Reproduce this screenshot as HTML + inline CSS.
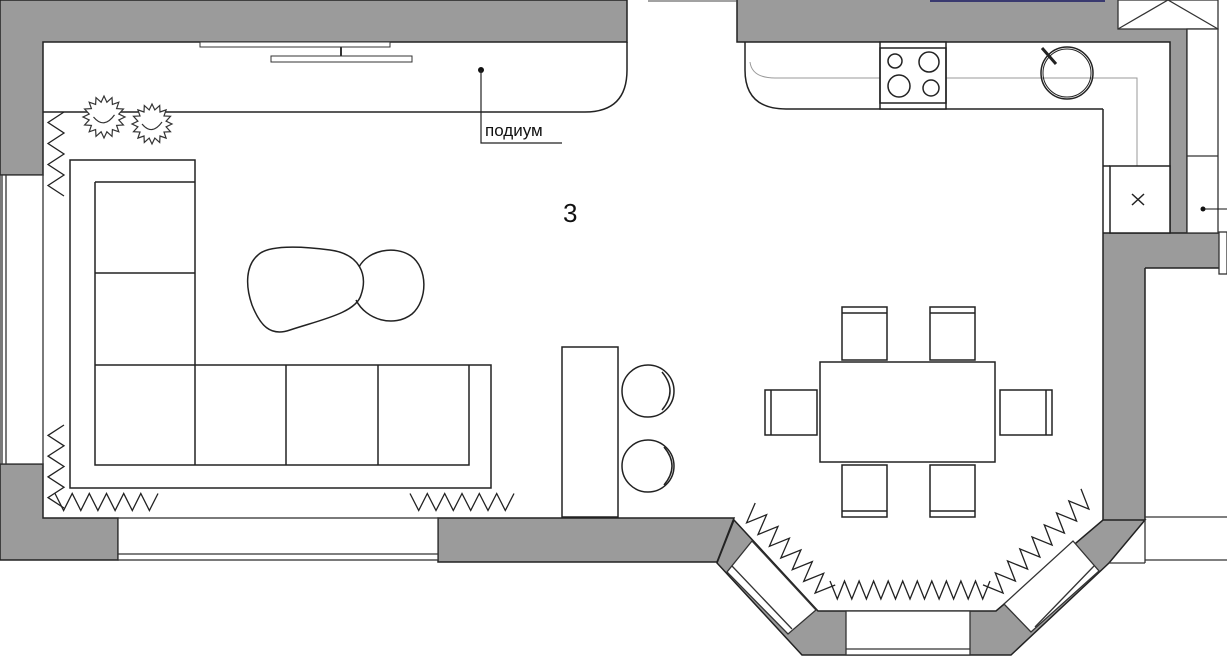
<!DOCTYPE html>
<html><head><meta charset="utf-8"><style>
html,body{margin:0;padding:0;background:#fff;}
svg{display:block}
</style></head><body>
<svg id="s" width="1227" height="670" viewBox="0 0 1227 670" xmlns="http://www.w3.org/2000/svg" font-family="Liberation Sans, sans-serif">
<g fill="#9b9b9b" stroke="#222" stroke-width="1.5">
<path d="M0 0 H627 V42 H43 V175 H0 Z"/>
<path d="M0 464 H43 V518 H118 V560 H0 Z"/>
<path d="M438 518 H734 L717 562 H438 Z"/>
</g>
<g fill="#9b9b9b" stroke="none">
<rect x="737" y="0" width="433" height="42"/>
<rect x="1118" y="29" width="69" height="13"/>
<rect x="1170" y="29" width="17" height="206"/>
<rect x="1103" y="233" width="116" height="35"/>
<rect x="1103" y="233" width="42" height="287"/>
</g>
<path d="M737 0 V42 H1170 V233 M1187 29 V233 M1103 109 V520 M1145 268 V520 M1103 233 H1219 M1145 268 H1219" fill="none" stroke="#222" stroke-width="1.5"/>
<g fill="#9b9b9b" stroke="#222" stroke-width="1.5">
<path d="M734 520 L818 611 H996 L1103 520 H1145 L1109 563 L1011 655 H802 L717 563 Z"/>
</g>
<line x1="930" y1="1" x2="1105" y2="1" stroke="#3a3a70" stroke-width="2"/>
<line x1="648" y1="1" x2="737" y2="1" stroke="#444" stroke-width="1"/>
<g fill="#fff" stroke="#333" stroke-width="1.3">
<rect x="1118" y="0" width="100" height="29"/>
<path d="M1118 29 L1168 0 L1218 29" fill="none"/>
<rect x="1187" y="29" width="31" height="204"/>
<line x1="1187" y1="156" x2="1218" y2="156"/>
</g>
<circle cx="1203" cy="209" r="2.5" fill="#111"/>
<line x1="1203" y1="209" x2="1227" y2="209" stroke="#111"/>
<g stroke="#333" stroke-width="1.3" fill="none">
<line x1="1145" y1="517" x2="1227" y2="517"/>
<line x1="1145" y1="560" x2="1227" y2="560"/>
<line x1="1109" y1="563" x2="1145" y2="563"/>
<line x1="1145" y1="520" x2="1145" y2="563"/>
<rect x="1219" y="232" width="8" height="42"/>
</g>
<g fill="#fff" stroke="#333" stroke-width="1.3">
<rect x="0" y="175" width="43" height="289"/>
<line x1="6" y1="175" x2="6" y2="464"/>
<line x1="2" y1="175" x2="2" y2="464"/>
<rect x="118" y="518" width="320" height="42"/>
<line x1="118" y1="554" x2="438" y2="554"/>
<polygon points="752,541 727,572 788,634 816,610"/>
<line x1="732" y1="566" x2="792" y2="629"/>
<polygon points="1073,541 1099,571 1031,632 1004,604"/>
<line x1="1094" y1="566" x2="1035" y2="627"/>
<rect x="846" y="611" width="124" height="44"/>
<line x1="846" y1="649" x2="970" y2="649"/>
</g>
<path d="M43 112 H585 Q627 112 627 70 V42" fill="none" stroke="#222" stroke-width="1.5"/>
<rect x="200" y="42" width="190" height="5" fill="#fff" stroke="#333"/>
<rect x="271" y="56" width="141" height="6" fill="#fff" stroke="#333"/>
<line x1="341" y1="47" x2="341" y2="56" stroke="#333" stroke-width="2"/>
<circle cx="481" cy="70" r="3" fill="#111"/>
<polyline points="481,70 481,143 562,143" fill="none" stroke="#222" stroke-width="1.2"/>
<text x="485" y="136" font-size="17" fill="#111">подиум</text>
<text x="563" y="222" font-size="26" fill="#111">3</text>
<g fill="none" stroke="#222" stroke-width="1.5">
<path d="M745 42 V70 Q745 109 786 109 H1103"/>
<path d="M750 62 Q752 78 775 78 H1137 V166" stroke="#999" stroke-width="1"/>
<rect x="880" y="42" width="66" height="67" fill="#fff"/>
<rect x="880" y="48" width="66" height="55"/>
<circle cx="895" cy="61" r="7"/><circle cx="929" cy="62" r="10"/>
<circle cx="899" cy="86" r="11"/><circle cx="931" cy="88" r="8"/>
<circle cx="1067" cy="73" r="26"/><circle cx="1067" cy="73" r="24" stroke-width="1"/>
<line x1="1042" y1="48" x2="1056" y2="64" stroke-width="3"/>
<rect x="1110" y="166" width="60" height="67" fill="#fff"/>
<line x1="1103" y1="166" x2="1110" y2="166"/>
<path d="M1132 194 l12 11 M1144 194 l-12 11"/>
</g>
<g fill="none" stroke="#222" stroke-width="1.5">
<path d="M70 160 H195 V365 H491 V488 H70 Z"/>
<path d="M95 182 H195 M95 182 V465 H469 V365"/>
<line x1="95" y1="273" x2="195" y2="273"/>
<line x1="95" y1="365" x2="195" y2="365"/>
<line x1="195" y1="365" x2="195" y2="465"/>
<line x1="286" y1="365" x2="286" y2="465"/>
<line x1="378" y1="365" x2="378" y2="465"/>
<path d="M258 255 C268 245 300 246 330 250 C360 254 368 275 361 295 C356 313 320 320 290 330 C270 337 260 325 252 305 C245 285 246 265 258 255 Z"/>
<path d="M359 267 C368 250 395 245 411 256 C428 268 428 300 412 314 C394 328 366 320 356 300"/>
<rect x="562" y="347" width="56" height="170"/>
<circle cx="648" cy="391" r="26"/>
<circle cx="648" cy="466" r="26"/>
<path d="M662 372 Q678 391 662 410 M664 447 Q680 466 664 485"/>
<rect x="820" y="362" width="175" height="100"/>
<rect x="842" y="307" width="45" height="53"/><line x1="842" y1="313" x2="887" y2="313"/>
<rect x="930" y="307" width="45" height="53"/><line x1="930" y1="313" x2="975" y2="313"/>
<rect x="842" y="465" width="45" height="52"/><line x1="842" y1="511" x2="887" y2="511"/>
<rect x="930" y="465" width="45" height="52"/><line x1="930" y1="511" x2="975" y2="511"/>
<rect x="765" y="390" width="52" height="45"/><line x1="771" y1="390" x2="771" y2="435"/>
<rect x="1000" y="390" width="52" height="45"/><line x1="1046" y1="390" x2="1046" y2="435"/>
</g>
<g id="z" fill="none" stroke="#222" stroke-width="1.3"></g>
<g id="p" fill="#fff" stroke="#333" stroke-width="1.2"></g>
</svg>
<script>
var z=document.getElementById('z'),NS="http://www.w3.org/2000/svg";
function zig(x1,y1,x2,y2,n,a){var dx=x2-x1,dy=y2-y1,L=Math.hypot(dx,dy),nx=-dy/L,ny=dx/L,pts=[];
for(var i=0;i<=2*n;i++){var t=i/(2*n),s=(i%2?a:-a)/2;pts.push((x1+dx*t+nx*s).toFixed(1)+","+(y1+dy*t+ny*s).toFixed(1));}
var p=document.createElementNS(NS,'polyline');p.setAttribute('points',pts.join(' '));z.appendChild(p);}
zig(56,112,56,196,4,16);zig(56,425,56,508,4,16);
zig(55,502,158,502,6,17);zig(410,502,514,502,6,17);
zig(748,510,828,592,7,20);zig(830,590,990,590,11,18);zig(990,592,1088,496,8,20);
var pg=document.getElementById('p');
function plant(cx,cy,r){var pts=[];for(var i=0;i<32;i++){var a=i*Math.PI/16,rr=(i%2?r*0.72:r);pts.push((cx+rr*Math.cos(a)).toFixed(1)+","+(cy+rr*Math.sin(a)).toFixed(1));}
var p=document.createElementNS(NS,'polygon');p.setAttribute('points',pts.join(' '));pg.appendChild(p);
var c=document.createElementNS(NS,'path');c.setAttribute('d','M'+(cx-r*0.5)+' '+cy+' Q'+cx+' '+(cy+r*0.6)+' '+(cx+r*0.5)+' '+(cy-r*0.1));c.setAttribute('fill','none');pg.appendChild(c);}
plant(104,117,21);plant(152,124,20);
</script>
</body></html>
